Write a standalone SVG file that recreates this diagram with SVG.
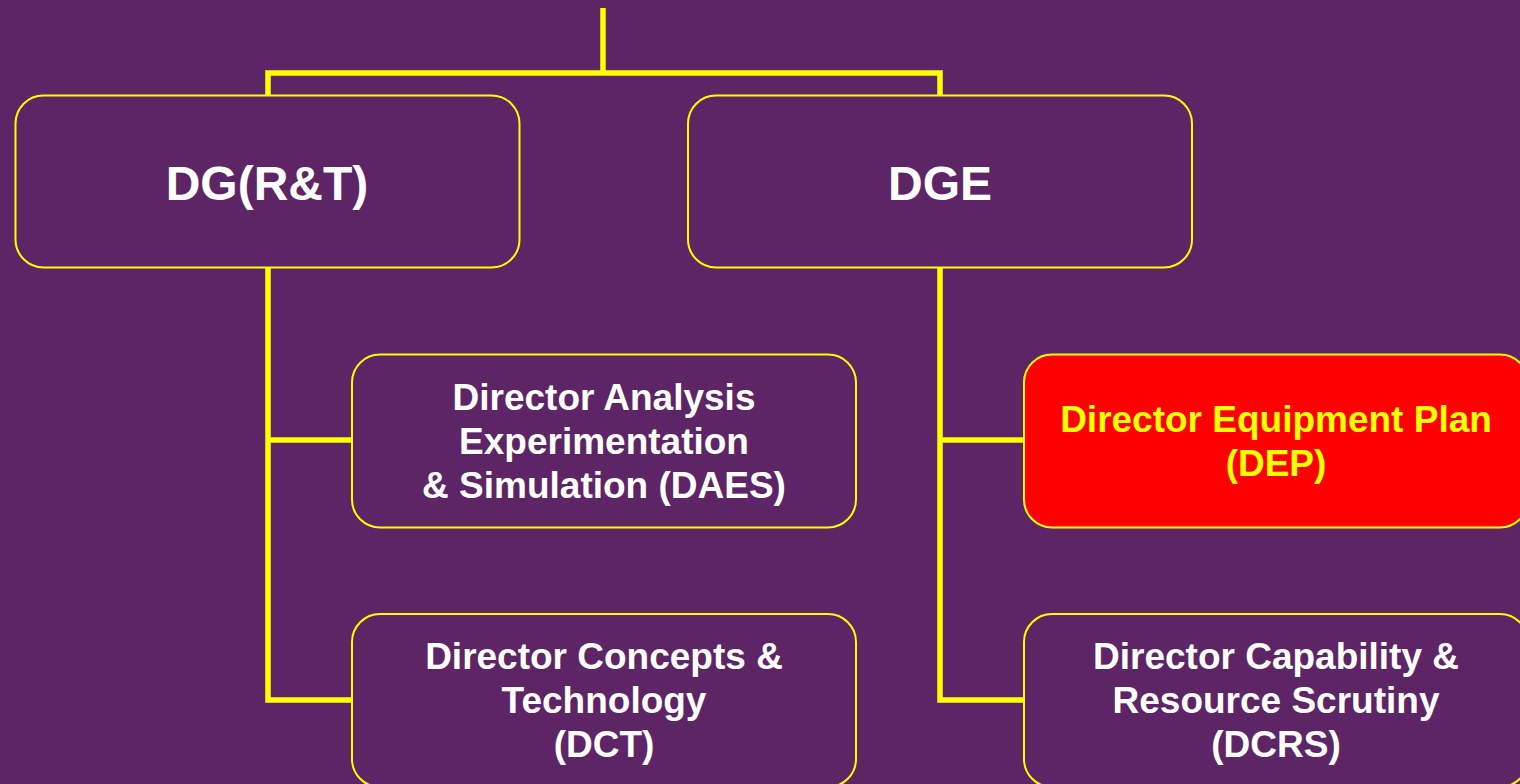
<svg xmlns="http://www.w3.org/2000/svg" width="1520" height="784" viewBox="0 0 1520 784">
<style>
.bg{fill:#5E2566}
.box{fill:#5E2566;stroke:#FFFF00;stroke-width:2}
.hot{fill:#FF0000;stroke:#FFFF00;stroke-width:2}
.conn{fill:none;stroke:#FFFF00;stroke-width:5.5;stroke-linejoin:miter;stroke-linecap:butt}
text{font-family:"Liberation Sans",Arial,sans-serif;font-weight:bold;text-anchor:middle;fill:#FFFFFF}
.big{font-size:48px}
.mid{font-size:37px}
.yel{fill:#FFFF00}
</style>
<rect class="bg" x="0" y="0" width="1520" height="784"/>
<g id="connectors">
<path class="conn" d="M603,8 V73"/>
<path class="conn" d="M268,95 V73 H940 V95"/>
<path class="conn" d="M268,268 V700 H352"/>
<path class="conn" d="M268,440 H352"/>
<path class="conn" d="M940,268 V700 H1024"/>
<path class="conn" d="M940,440 H1024"/>
</g>
<g id="dgrt">
<rect class="box" x="15.5" y="95.5" width="504" height="172" rx="28" ry="28"/>
<text class="big" x="267" y="200">DG(R&amp;T)</text>
</g>
<g id="dge">
<rect class="box" x="688" y="95.5" width="504" height="172" rx="28" ry="28"/>
<text class="big" x="940" y="200">DGE</text>
</g>
<g id="daes">
<rect class="box" x="352" y="354.5" width="504" height="173" rx="28" ry="28"/>
<text class="mid" x="604" y="410">Director Analysis</text>
<text class="mid" x="604" y="454">Experimentation</text>
<text class="mid" x="604" y="498">&amp; Simulation (DAES)</text>
</g>
<g id="dct">
<rect class="box" x="352" y="614" width="504" height="173" rx="28" ry="28"/>
<text class="mid" x="604" y="669">Director Concepts &amp;</text>
<text class="mid" x="604" y="713">Technology</text>
<text class="mid" x="604" y="757">(DCT)</text>
</g>
<g id="dep">
<rect class="hot" x="1024" y="354.5" width="504" height="173" rx="28" ry="28"/>
<text class="mid yel" x="1276" y="432">Director Equipment Plan</text>
<text class="mid yel" x="1276" y="476">(DEP)</text>
</g>
<g id="dcrs">
<rect class="box" x="1024" y="614" width="504" height="173" rx="28" ry="28"/>
<text class="mid" x="1276" y="669">Director Capability &amp;</text>
<text class="mid" x="1276" y="713">Resource Scrutiny</text>
<text class="mid" x="1276" y="757">(DCRS)</text>
</g>
</svg>
